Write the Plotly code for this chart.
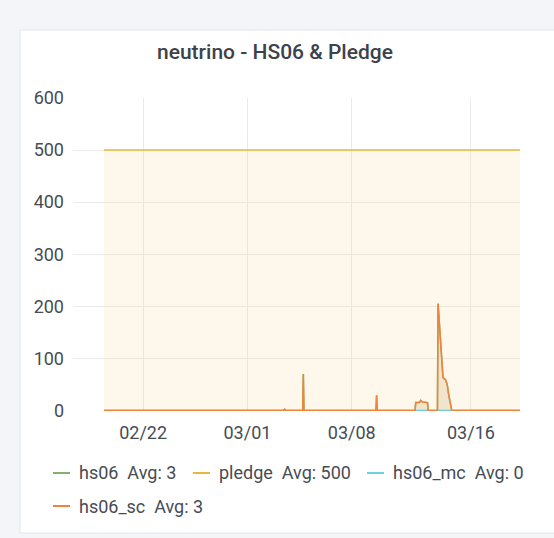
import plotly.graph_objects as go

# ---- data ----
times = [
    "2021-02-19 09:00", "2021-03-03 10:00", "2021-03-03 12:00", "2021-03-03 14:00",
    "2021-03-04 17:00", "2021-03-04 18:00", "2021-03-04 19:00",
    "2021-03-09 15:00", "2021-03-09 16:00", "2021-03-09 17:00",
    "2021-03-12 06:00", "2021-03-12 07:00", "2021-03-12 13:00", "2021-03-12 15:00",
    "2021-03-12 18:00", "2021-03-13 02:00", "2021-03-13 03:00",
    "2021-03-13 18:00", "2021-03-13 19:00", "2021-03-13 20:00", "2021-03-13 22:00",
    "2021-03-14 00:00", "2021-03-14 02:00", "2021-03-14 03:00", "2021-03-14 06:00",
    "2021-03-14 07:00", "2021-03-14 09:00", "2021-03-14 10:00", "2021-03-14 12:00",
    "2021-03-14 15:00", "2021-03-14 17:00", "2021-03-19 07:00",
]
hs06_sc = [
    0, 0, 2, 0,
    0, 70, 0,
    0, 29, 0,
    0, 15, 15, 19,
    16, 15, 0,
    0, 205, 188, 161,
    128, 88, 63, 60,
    59, 52, 48, 31,
    15, 0, 0,
]
hs06_mc = [
    0, 0, 0, 0,
    0, 0, 0,
    0, 0, 0,
    0, 0, 0, 0,
    0, 0, 0,
    0, 0, 0, 0,
    0, 0, 0, 0,
    0, 0, 0, 0,
    0, 0, 0,
]
hs06 = [
    0, 0, 2, 0,
    0, 70, 0,
    0, 29, 0,
    0, 15, 15, 19,
    16, 15, 0,
    0, 205, 188, 161,
    128, 88, 63, 60,
    59, 52, 48, 31,
    15, 0, 0,
]
pledge_times = ["2021-02-19 09:00", "2021-03-19 07:00"]
pledge = [500, 500]

series_names = ["hs06", "pledge", "hs06_mc", "hs06_sc"]
series_avgs = ["3", "500", "0", "3"]
series_colors = ["#7EB26D", "#EAB839", "#6ED0E0", "#EF843C"]

x_range = ["2021-02-17 07:00", "2021-03-19 07:00"]
x_tickvals = ["2021-02-22", "2021-03-01", "2021-03-08", "2021-03-16"]
x_ticktext = ["02/22", "03/01", "03/08", "03/16"]
y_tickvals = [0, 100, 200, 300, 400, 500, 600]

title_text = "neutrino - HS06 & Pledge"

# ---- layout geometry ----
W, H = 554, 538
L, R, T, B = 73, 34, 98, 127
PW, PH = W - L - R, H - T - B


def px(x):
    return (x - L) / PW


def py(y):
    return (H - B - y) / PH


def rgba(hexc, a):
    hexc = hexc.lstrip("#")
    r, g, b = int(hexc[0:2], 16), int(hexc[2:4], 16), int(hexc[4:6], 16)
    return f"rgba({r},{g},{b},{a})"


fig = go.Figure()
data_x = [times, pledge_times, times, times]
data_y = [hs06, pledge, hs06_mc, hs06_sc]
for name, xs, ys, col in zip(series_names, data_x, data_y, series_colors):
    fig.add_trace(go.Scatter(
        x=xs, y=ys, name=name, mode="lines",
        line=dict(color=col, width=1.5),
        fill="tozeroy", fillcolor=rgba(col, 0.1),
        hoverinfo="skip",
    ))

text_color = "#464c54"
font_family = "Roboto, 'Open Sans', sans-serif"

shapes = [
    # panel
    dict(type="rect", xref="paper", yref="paper",
         x0=px(20), x1=px(W + 5), y0=py(533), y1=py(30),
         fillcolor="white", line=dict(color="#e3e5e9", width=1), layer="below"),
]
annotations = [
    dict(text=title_text, xref="paper", yref="paper", x=px(275), y=py(52),
         xanchor="center", yanchor="middle", showarrow=False,
         font=dict(size=21, color="#3d424a", family=font_family, weight=500)),
]

legend_pos = [(53, 473), (193, 473), (367, 473), (53, 506)]
for (lx, ly), name, avg, col in zip(legend_pos, series_names, series_avgs, series_colors):
    shapes.append(dict(type="line", xref="paper", yref="paper",
                       x0=px(lx), x1=px(lx + 17), y0=py(ly), y1=py(ly),
                       line=dict(color=col, width=2)))
    annotations.append(dict(text=f"{name}  Avg: {avg}", xref="paper", yref="paper",
                            x=px(lx + 24), y=py(ly), xanchor="left", yanchor="middle",
                            showarrow=False,
                            font=dict(size=18, color=text_color, family=font_family)))

fig.update_layout(
    width=W, height=H,
    margin=dict(l=L, r=R, t=T, b=B, pad=0),
    paper_bgcolor="#f4f5f8",
    plot_bgcolor="rgba(0,0,0,0)",
    showlegend=False,
    shapes=shapes,
    annotations=annotations,
    font=dict(family=font_family, color=text_color, size=18),
)
fig.update_xaxes(
    type="date", range=x_range, tickvals=x_tickvals, ticktext=x_ticktext,
    showgrid=True, gridcolor="#ebebeb", gridwidth=1, zeroline=False,
    showline=False, ticks="", ticklabelstandoff=9,
    tickfont=dict(size=18, color=text_color),
)
fig.update_yaxes(
    range=[-1.2, 600], tickvals=y_tickvals,
    showgrid=True, gridcolor="#ebebeb", gridwidth=1, zeroline=False,
    showline=False, ticks="", ticklabelstandoff=8,
    tickfont=dict(size=18, color=text_color),
)

fig.write_html(
    "out.html",
    config={"displayModeBar": False},
    post_script="document.body.style.margin='0';document.body.style.padding='0';",
)
